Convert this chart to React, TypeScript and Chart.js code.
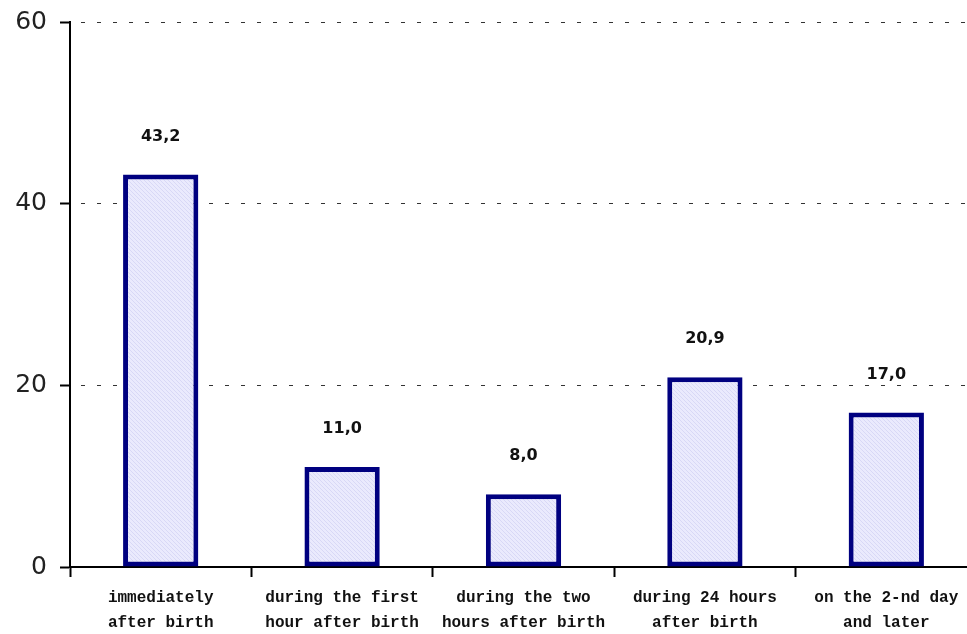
import React, { useEffect, useRef } from "react";
import { Chart, registerables } from "chart.js";

Chart.register(...registerables);

const categories: string[][] = [
  ["immediately", "after birth"],
  ["during the first", "hour after birth"],
  ["during the two", "hours after birth"],
  ["during 24 hours", "after birth"],
  ["on the 2-nd day", "and later"],
];
const values: number[] = [43.2, 11.0, 8.0, 20.9, 17.0];
const valueLabels: string[] = ["43,2", "11,0", "8,0", "20,9", "17,0"];
const yTicks: number[] = [0, 20, 40, 60];

const CANVAS_W = 1000;
const CANVAS_H = 634;

function makePattern(): CanvasPattern | string {
  const c = document.createElement("canvas");
  c.width = 4;
  c.height = 4;
  const g = c.getContext("2d");
  if (!g) return "#e6e6fb";
  g.fillStyle = "#eaeafd";
  g.fillRect(0, 0, 4, 4);
  g.fillStyle = "#d8d8f6";
  for (let i = 0; i < 4; i++) g.fillRect(i, i, 1, 1);
  const p = g.createPattern(c, "repeat");
  return p || "#e6e6fb";
}

const valueLabelPlugin = {
  id: "valueLabels",
  afterDatasetsDraw(chart: any) {
    const ctx = chart.ctx;
    const meta = chart.getDatasetMeta(0);
    ctx.save();
    ctx.font = "bold 16px 'DejaVu Sans'";
    ctx.fillStyle = "#111";
    ctx.textAlign = "center";
    ctx.textBaseline = "middle";
    meta.data.forEach((el: any, i: number) => {
      ctx.fillText(valueLabels[i], el.x, el.y - 38);
    });
    ctx.restore();
  },
};

export default function App() {
  const ref = useRef<HTMLCanvasElement | null>(null);
  useEffect(() => {
    if (!ref.current) return;
    const chart = new Chart(ref.current, {
      type: "bar",
      data: {
        labels: categories,
        datasets: [
          {
            data: values,
            backgroundColor: makePattern(),
            borderColor: "#000080",
            borderWidth: 5,
            borderSkipped: false,
            categoryPercentage: 1,
            barPercentage: 0.415,
          },
        ],
      },
      options: {
        responsive: false,
        animation: false,
        layout: { padding: { top: 22, right: CANVAS_W - 977, left: 0, bottom: 0 } },
        plugins: {
          legend: { display: false },
          tooltip: { enabled: false },
        },
        scales: {
          x: {
            offset: true,
            afterFit: (s: any) => {
              s.height = 67;
              s.paddingLeft = 0;
              s.paddingRight = 0;
            },
            border: { display: true, color: "#000", width: 2 },
            grid: {
              display: true,
              offset: true,
              drawOnChartArea: false,
              drawTicks: true,
              tickLength: 10,
              tickColor: "#000",
              tickWidth: 2,
            },
            ticks: {
              color: "#111",
              padding: 8,
              maxRotation: 0,
              autoSkip: false,
              font: { family: "'Liberation Mono'", size: 16, weight: "bold", lineHeight: 1.6 },
            },
          },
          y: {
            min: 0,
            max: 60,
            afterFit: (s: any) => {
              s.width = 70;
              s.paddingTop = 0;
              s.paddingBottom = 0;
            },
            afterBuildTicks: (s: any) => {
              s.ticks = yTicks.map((v) => ({ value: v }));
            },
            border: { display: true, color: "#000", width: 2, dash: [4, 12], dashOffset: 6 },
            grid: {
              color: (c: any) => (c.tick && c.tick.value === 0 ? "rgba(0,0,0,0)" : "#333"),
              lineWidth: 1,
              drawTicks: true,
              tickLength: 10,
              tickColor: "#000",
              tickWidth: 2,
              tickBorderDash: [],
            },
            ticks: {
              color: "#222",
              padding: 13,
              font: { family: "'DejaVu Sans'", size: 25 },
            },
          },
        },
      },
      plugins: [valueLabelPlugin],
    } as any);
    return () => chart.destroy();
  }, []);

  return (
    <div
      style={{
        position: "fixed",
        left: 0,
        top: 0,
        width: 967,
        height: 634,
        overflow: "hidden",
        background: "#fff",
      }}
    >
      <canvas
        ref={ref}
        width={CANVAS_W}
        height={CANVAS_H}
        style={{ width: CANVAS_W, height: CANVAS_H, display: "block" }}
      />
    </div>
  );
}
